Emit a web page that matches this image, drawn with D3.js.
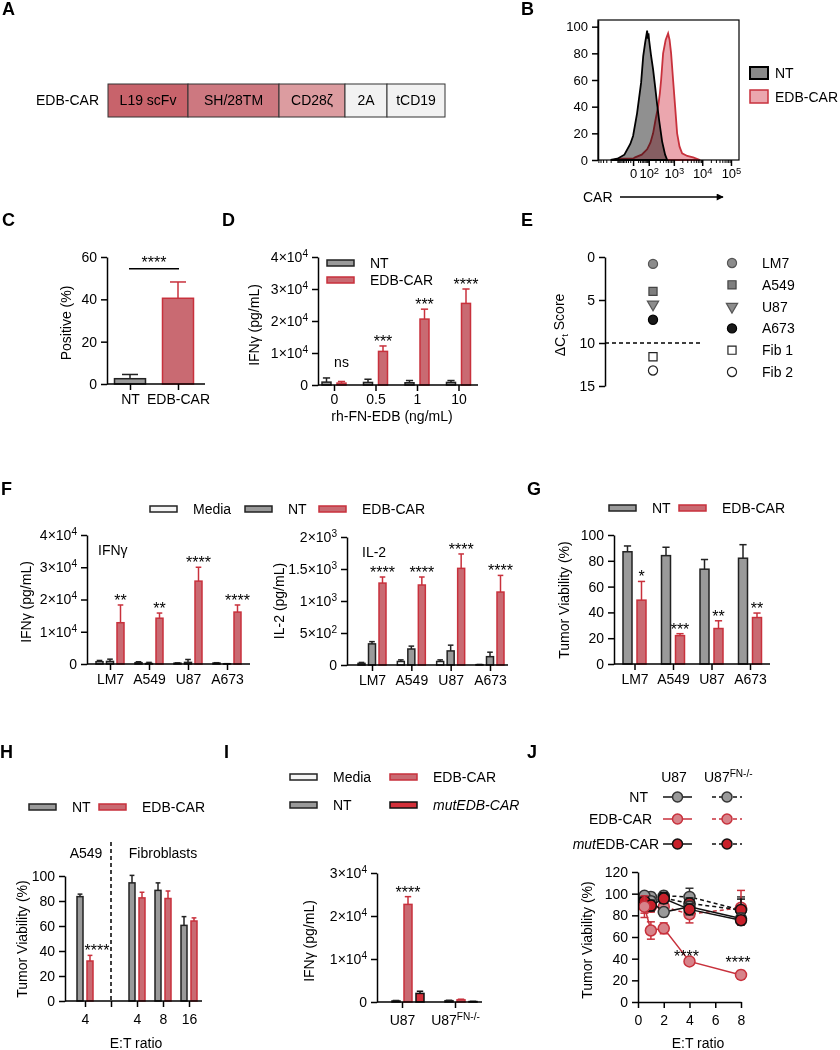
<!DOCTYPE html>
<html><head><meta charset="utf-8">
<script src="https://cdn.jsdelivr.net/npm/d3@7"></script>
<style>
body{margin:0;background:#fff}
svg text{font-family:"Liberation Sans",Arial,Helvetica,sans-serif;fill:#000}
</style></head><body>
<svg id="fig" width="840" height="1050"></svg>
<script>
// ================= DATA =================
// A: construct (relative segment lengths)
const segNames = ["L19 scFv","SH/28TM","CD28ζ","2A","tCD19"];
const segLengths = [80, 91, 66, 42, 58];

// B: flow histogram (fluorescence value, % of max)
const bNTx = [-200,-100,-40,-10,0,15,36,50,65,75,83,90,97,104,129,158,193,233,280,367,477,570];
const bNTy = [0,1,4,12,18,35,58,78,88,93,97,91,95,90,78,68,55,42,30,14,4,0];
const bCARx = [-150,-73,0,7,40,83,120,158,200,256,300,336,401,500,618,700,796,940,1112,1312,1600,1976,3000,4820,8450];
const bCARy = [0,1,1,2,4,8,13,20,30,40,50,60,80,90,95,90,80,60,40,20,10,5,3,2,0];
const bTicks = [0,100,1000,10000,100000];

// C
const cCats = ["NT","EDB-CAR"];
const cMeans = [2.5, 40.5];
const cErr = [2.0, 7.7];
const cSig = "****";
const cSigLevel = 54.5;

// D
const dDoses = ["0","0.5","1","10"];
const dNT = [900, 800, 700, 800];
const dNTerr = [1300, 1000, 700, 600];
const dEDB = [600, 10500, 20600, 25500];
const dEDBerr = [500, 1700, 3100, 4500];
const dSig = ["ns","***","***","****"];

// E
const eLines = ["LM7","A549","U87","A673","Fib 1","Fib 2"];
const eScores = [0.8, 4.0, 5.5, 7.3, 11.6, 13.2];
const eCutoff = 10;

// F
const fCats = ["LM7","A549","U87","A673"];
const fIfnMedia = [700, 400, 250, 300];
const fIfnMediaErr = [400, 300, 100, 100];
const fIfnNT = [800, 150, 500, 50];
const fIfnNTErr = [700, 350, 900, 50];
const fIfnEDB = [12800, 14200, 25700, 16100];
const fIfnEDBErr = [5500, 1600, 4300, 2200];
const fIfnSig = ["**","**","****","****"];
const fIl2Media = [25, 55, 55, 5];
const fIl2MediaErr = [15, 25, 25, 3];
const fIl2NT = [330, 250, 220, 130];
const fIl2NTErr = [35, 45, 90, 70];
const fIl2EDB = [1280, 1250, 1510, 1140];
const fIl2EDBErr = [95, 125, 225, 260];
const fIl2Sig = ["****","****","****","****"];

// G
const gCats = ["LM7","A549","U87","A673"];
const gNT = [87, 84, 73.5, 82];
const gNTErr = [4.5, 6.5, 7.5, 10.5];
const gEDB = [49.5, 22, 27.5, 36];
const gEDBErr = [14.5, 1.5, 6, 3.5];
const gSig = ["*","***","**","**"];

// H
const hSlots = ["A549|4","divider","Fib|4","Fib|8","Fib|16"];
const hCats = ["A549|4","Fib|4","Fib|8","Fib|16"];
const hNT = [83.5, 94.5, 88.5, 60.5];
const hNTErr = [2, 6, 6, 7];
const hEDB = [32, 82.5, 82, 64];
const hEDBErr = [4.5, 4.5, 6, 2.5];
const hSig = ["****","","",""];

// I
const iCats = ["U87","U87FN-/-"];
const iMedia = [0, 0];
const iMediaErr = [0, 0];
const iNT = [250, 300];
const iNTErr = [100, 100];
const iEDB = [22700, 500];
const iEDBErr = [1800, 150];
const iMut = [2000, 100];
const iMutErr = [500, 50];
const iSig = ["****",""];

// J
const jX = [0.5, 1, 2, 4, 8];
const jU87NT = [98, 93, 83, 88, 77];
const jU87NTErr = [3, 4, 4, 5, 5];
const jU87EDB = [88, 66, 68, 37.5, 25];
const jU87EDBErr = [10, 8, 5, 2, 4];
const jU87Mut = [93, 89, 95.5, 85.5, 75.5];
const jU87MutErr = [4, 5, 4, 5, 4];
const jFNNT = [97, 97, 98, 97, 85];
const jFNNTErr = [3, 4, 4, 8, 12];
const jFNEDB = [90, 88, 88, 81, 87];
const jFNEDBErr = [8, 5, 5, 8, 16];
const jFNMut = [95, 92, 96, 91, 85];
const jFNMutErr = [4, 5, 5, 5, 10];
const jSigX = [4, 8];
const jSigY = [37, 31];

// ================= STYLE =================
const RED = "#c8313c", PINK = "#c96a72", GREY = "#9a9a9a", MUT = "#d3303a", MEDIA = "#f4f4f4";
const SIGFS = 16;
const svg = d3.select("#fig");

function letter(t, x, y){ svg.append("text").attr("x",x).attr("y",y).attr("font-weight","bold").attr("font-size",18).text(t); }
function txt(t, x, y, o={}){
  const e = svg.append("text").attr("x",x).attr("y",y).attr("font-size",o.fs||14)
    .attr("text-anchor",o.anchor||"start").text(t);
  if(o.italic) e.attr("font-style","italic");
  return e;
}
function yLabel(parts, x, y){
  const t = svg.append("text").attr("transform",`translate(${x},${y}) rotate(-90)`)
    .attr("text-anchor","middle").attr("dy","0.35em").attr("font-size",14);
  parts.forEach(p=>{
    const s = t.append("tspan").text(p.t);
    if(p.sub) s.attr("font-size","0.7em").attr("dy","0.3em");
    if(p.back) s.attr("dy","-0.3em");
  });
  return t;
}
function styleAxis(g, fs=14){
  g.attr("font-family",null).attr("font-size",null);
  g.selectAll("path.domain").attr("stroke","#000").attr("stroke-width",1.5);
  g.selectAll(".tick line").attr("stroke","#000").attr("stroke-width",1.5);
  g.selectAll(".tick text").attr("font-size",fs).attr("fill","#000");
}
function sciText(sel){
  sel.each(function(d){
    const t = d3.select(this); t.text(null);
    if(d===0){ t.text("0"); return; }
    const e = Math.floor(Math.log10(d) + 1e-9);
    const m = +(d/Math.pow(10,e)).toFixed(2);
    t.append("tspan").text(m+"×10");
    t.append("tspan").attr("dy","-0.5em").attr("font-size","0.72em").text(e);
  });
}
function yAxis(scale, x, ticks, sci, fs=14){
  const g = svg.append("g").attr("transform",`translate(${x},0)`)
    .call(d3.axisLeft(scale).tickValues(ticks).tickSize(6).tickPadding(4).tickSizeOuter(0));
  styleAxis(g, fs);
  if(sci) g.selectAll(".tick text").call(sciText);
  return g;
}
function xAxisCat(scale, y, x0, x1, pad=4, fmt){
  svg.append("line").attr("x1",x0).attr("x2",x1).attr("y1",y).attr("y2",y).attr("stroke","#000").attr("stroke-width",1.5);
  const ax = d3.axisBottom(scale).tickSize(6).tickPadding(pad);
  if(fmt) ax.tickFormat(fmt);
  const g = svg.append("g").attr("transform",`translate(0,${y})`).call(ax);
  g.select("path.domain").remove();
  styleAxis(g);
  return g;
}
function legendBox(x, y, fill, stroke, label, italic){
  svg.append("rect").attr("x",x).attr("y",y-3).attr("width",27).attr("height",6)
    .attr("fill",fill).attr("stroke",stroke).attr("stroke-width",1.5);
  txt(label, x+43, y+5, {italic});
}
function bars(o){
  o.series.forEach(s=>{
    o.cats.forEach((c,i)=>{
      const v = s.vals[i], e = s.errs[i];
      const cx = o.gx(c) + s.off;
      const top = o.y(v), base = o.y(0);
      if(e>0){
        const et = o.y(v+e), cw = o.capW || o.w*0.8;
        svg.append("line").attr("x1",cx).attr("x2",cx).attr("y1",top).attr("y2",et).attr("stroke",s.err).attr("stroke-width",1.5);
        svg.append("line").attr("x1",cx-cw/2).attr("x2",cx+cw/2).attr("y1",et).attr("y2",et).attr("stroke",s.err).attr("stroke-width",1.5);
      }
      svg.append("rect").attr("x",cx-o.w/2).attr("y",top).attr("width",o.w).attr("height",Math.max(0,base-top))
        .attr("fill",s.fill).attr("stroke",s.stroke).attr("stroke-width",1.5);
    });
  });
}
function sigs(labels, o, s, extra){
  labels.forEach((l,i)=>{
    if(!l) return;
    const c = o.cats[i];
    let yb = o.y(s.vals[i]+s.errs[i]) + 1;
    if(l==="ns"){ txt(l, o.gx(c)+s.off, yb-15, {anchor:"middle", fs:14}); return; }
    txt(l, o.gx(c)+s.off+(extra||0), yb, {anchor:"middle", fs:SIGFS});
  });
}
function subScale(keys, step){
  const n = keys.length;
  return d3.scalePoint().domain(keys).range([-step*(n-1)/2, step*(n-1)/2]);
}

// ================= A =================
letter("A", 2, 15);
{
  const ax = d3.scaleLinear().domain([0, d3.sum(segLengths)]).range([108, 445]);
  const fills = ["#c8636b","#cd7880","#dc9ca0","#f2f2f2","#f2f2f2"];
  let cum = 0;
  segNames.forEach((n,i)=>{
    const s = cum, e = cum + segLengths[i]; cum = e;
    svg.append("rect").attr("x",ax(s)).attr("y",84).attr("width",ax(e)-ax(s)).attr("height",33)
      .attr("fill",fills[i]).attr("stroke","#333").attr("stroke-width",1);
    txt(n, (ax(s)+ax(e))/2, 105, {anchor:"middle"});
  });
  txt("EDB-CAR", 99, 105, {anchor:"end"});
}

// ================= B =================
letter("B", 521, 15);
{
  const bx = d3.scaleSymlog().constant(40).domain([-620, 190000]).range([598, 739]);
  const by = d3.scaleLinear().domain([0,105]).range([160,20]);
  const area = d3.area().x(d=>bx(d[0])).y0(by(0)).y1(d=>by(d[1]));
  svg.append("path").datum(d3.zip(bCARx,bCARy)).attr("d",area)
    .attr("fill","#eba6ae").attr("stroke",RED).attr("stroke-width",1.8);
  svg.append("path").datum(d3.zip(bNTx,bNTy)).attr("d",area)
    .attr("fill","#8a8a8a").attr("fill-opacity",0.95).attr("stroke","#000").attr("stroke-width",1.8)
    .style("mix-blend-mode","multiply");
  svg.append("rect").attr("x",598).attr("y",20).attr("width",141).attr("height",140)
    .attr("fill","none").attr("stroke","#000").attr("stroke-width",1.2);
  yAxis(by, 598, [0,20,40,60,80,100], false, 13);
  const minor = [];
  [-100,-10].forEach(b=>{ for(let k=1;k<10;k++){ const v=b*k; if(v>-620) minor.push(v);} });
  [10,100,1000,10000,100000].forEach(b=>{ for(let k=2;k<10;k++){ const v=b*k; if(v<190000) minor.push(v);} });
  const gm = svg.append("g").attr("transform","translate(0,160)")
    .call(d3.axisBottom(bx).tickValues(minor).tickSize(3).tickFormat(""));
  gm.select("path.domain").remove(); styleAxis(gm); gm.selectAll(".tick line").attr("stroke-width",1);
  const gM = svg.append("g").attr("transform","translate(0,160)")
    .call(d3.axisBottom(bx).tickValues(bTicks).tickSize(6).tickPadding(3));
  gM.select("path.domain").remove(); styleAxis(gM, 13);
  gM.selectAll(".tick text").each(function(d){
    const t = d3.select(this); t.text(null);
    if(d===0){ t.text("0"); return; }
    t.append("tspan").text("10");
    t.append("tspan").attr("dy","-0.45em").attr("font-size","0.72em").text(Math.round(Math.log10(d)));
  });
  txt("CAR", 583, 202);
  svg.append("defs").append("marker").attr("id","arr").attr("viewBox","0 0 10 10").attr("refX",9).attr("refY",5)
    .attr("markerWidth",9).attr("markerHeight",7).attr("markerUnits","userSpaceOnUse").attr("orient","auto")
    .append("path").attr("d","M0,0L10,5L0,10Z").attr("fill","#000");
  svg.append("line").attr("x1",620).attr("x2",723).attr("y1",197).attr("y2",197)
    .attr("stroke","#000").attr("stroke-width",1.5).attr("marker-end","url(#arr)");
  svg.append("rect").attr("x",750).attr("y",67).attr("width",18).attr("height",12).attr("fill","#8a8a8a").attr("stroke","#000").attr("stroke-width",2);
  txt("NT", 775, 78);
  svg.append("rect").attr("x",750).attr("y",90).attr("width",18).attr("height",13).attr("fill","#eba6ae").attr("stroke",RED).attr("stroke-width",1.5);
  txt("EDB-CAR", 775, 102);
}

// ================= C =================
letter("C", 2, 226);
{
  const y = d3.scaleLinear().domain([0,60]).range([384,257]);
  const gx = d3.scalePoint().domain(cCats).range([130,178]);
  const o = {y, gx, cats:cCats, w:31, capW:16};
  bars({...o, series:[{vals:[cMeans[0],0], errs:[cErr[0],0], fill:GREY, stroke:"#222", err:"#222", off:0}]});
  bars({...o, series:[{vals:[0,cMeans[1]], errs:[0,cErr[1]], fill:PINK, stroke:RED, err:RED, off:0}]});
  yAxis(y, 107, [0,20,40,60]);
  xAxisCat(gx, 384, 107, 205, 4);
  svg.append("line").attr("x1",129).attr("x2",179).attr("y1",y(cSigLevel)).attr("y2",y(cSigLevel)).attr("stroke","#000").attr("stroke-width",1.5);
  txt(cSig, 154, y(cSigLevel)-1, {anchor:"middle", fs:SIGFS});
  yLabel([{t:"Positive (%)"}], 66, 323);
}

// ================= D =================
letter("D", 222, 226);
{
  const y = d3.scaleLinear().domain([0,40000]).range([385,257]);
  const gx = d3.scalePoint().domain(dDoses).range([334,458.5]);
  const sub = subScale(["NT","EDB-CAR"], 15);
  const o = {y, gx, cats:dDoses, w:9};
  const sNT = {vals:dNT, errs:dNTerr, fill:GREY, stroke:"#222", err:"#222", off:sub("NT")};
  const sE = {vals:dEDB, errs:dEDBerr, fill:PINK, stroke:RED, err:RED, off:sub("EDB-CAR")};
  bars({...o, series:[sNT, sE]});
  sigs(dSig, o, sE);
  yAxis(y, 318, [0,10000,20000,30000,40000], true);
  xAxisCat(gx, 385, 318, 478, 3);
  txt("rh-FN-EDB (ng/mL)", 392, 421, {anchor:"middle"});
  yLabel([{t:"IFNγ (pg/mL)"}], 254, 325);
  legendBox(327, 263, GREY, "#222", "NT");
  legendBox(327, 280, PINK, RED, "EDB-CAR");
}

// ================= E =================
letter("E", 521, 226);
{
  const y = d3.scaleLinear().domain([0,15]).range([257,386]);
  const xb = d3.scaleBand().domain(["cells"]).range([605,701]);
  const cx = xb("cells") + xb.bandwidth()/2;
  const sym = [
    {type:d3.symbolCircle, size:66, fill:"#8c8c8c", stroke:"#555", rot:0},
    {type:d3.symbolSquare, size:66, fill:"#7f7f7f", stroke:"#444", rot:0},
    {type:d3.symbolTriangle, size:55, fill:"#8c8c8c", stroke:"#555", rot:180},
    {type:d3.symbolCircle, size:66, fill:"#1a1a1a", stroke:"#000", rot:0},
    {type:d3.symbolSquare, size:66, fill:"#fff", stroke:"#222", rot:0},
    {type:d3.symbolCircle, size:66, fill:"#fff", stroke:"#222", rot:0}
  ];
  svg.append("line").attr("x1",605).attr("x2",703).attr("y1",y(eCutoff)).attr("y2",y(eCutoff))
    .attr("stroke","#000").attr("stroke-width",1.5).attr("stroke-dasharray","4,3");
  eScores.forEach((v,i)=>{
    const s = sym[i];
    svg.append("path").attr("d",d3.symbol().type(s.type).size(s.size)())
      .attr("transform",`translate(${cx},${y(v)}) rotate(${s.rot})`)
      .attr("fill",s.fill).attr("stroke",s.stroke).attr("stroke-width",1.2);
  });
  const ly = d3.scalePoint().domain(eLines).range([263,372]);
  eLines.forEach((n,i)=>{
    const s = sym[i];
    svg.append("path").attr("d",d3.symbol().type(s.type).size(s.size)())
      .attr("transform",`translate(732,${ly(n)}) rotate(${s.rot})`)
      .attr("fill",s.fill).attr("stroke",s.stroke).attr("stroke-width",1.2);
    txt(n, 762, ly(n)+5);
  });
  yAxis(y, 605, [0,5,10,15]);
  yLabel([{t:"ΔC"},{t:"t",sub:true},{t:"  Score",back:true}], 560, 325);
}

// ================= F =================
letter("F", 1, 495);
legendBox(150, 509, MEDIA, "#222", "Media");
legendBox(245, 509, GREY, "#222", "NT");
legendBox(319, 509, PINK, RED, "EDB-CAR");
{
  const sub = subScale(["Media","NT","EDB-CAR"], 10.5);
  const y = d3.scaleLinear().domain([0,40000]).range([664,535]);
  const gx = d3.scalePoint().domain(fCats).range([110,227]);
  const o = {y, gx, cats:fCats, w:7};
  const sE = {vals:fIfnEDB, errs:fIfnEDBErr, fill:PINK, stroke:RED, err:RED, off:sub("EDB-CAR")};
  bars({...o, series:[
    {vals:fIfnMedia, errs:fIfnMediaErr, fill:MEDIA, stroke:"#222", err:"#222", off:sub("Media")},
    {vals:fIfnNT, errs:fIfnNTErr, fill:GREY, stroke:"#222", err:"#222", off:sub("NT")}, sE]});
  sigs(fIfnSig, o, sE);
  yAxis(y, 87, [0,10000,20000,30000,40000], true);
  xAxisCat(gx, 664, 87, 250, 4);
  txt("IFNγ", 98, 555);
  yLabel([{t:"IFNγ (pg/mL)"}], 26, 602);
  const y2 = d3.scaleLinear().domain([0,2000]).range([665,537]);
  const gx2 = d3.scalePoint().domain(fCats).range([372,490]);
  const o2 = {y:y2, gx:gx2, cats:fCats, w:7};
  const sE2 = {vals:fIl2EDB, errs:fIl2EDBErr, fill:PINK, stroke:RED, err:RED, off:sub("EDB-CAR")};
  bars({...o2, series:[
    {vals:fIl2Media, errs:fIl2MediaErr, fill:MEDIA, stroke:"#222", err:"#222", off:sub("Media")},
    {vals:fIl2NT, errs:fIl2NTErr, fill:GREY, stroke:"#222", err:"#222", off:sub("NT")}, sE2]});
  sigs(fIl2Sig, o2, sE2);
  yAxis(y2, 347, [0,500,1000,1500,2000], true);
  xAxisCat(gx2, 665, 347, 508, 4);
  txt("IL-2", 362, 557);
  yLabel([{t:"IL-2 (pg/mL)"}], 279, 601);
}

// ================= G =================
letter("G", 527, 495);
legendBox(609, 508, GREY, "#222", "NT");
legendBox(679, 508, PINK, RED, "EDB-CAR");
{
  const y = d3.scaleLinear().domain([0,100]).range([664,535]);
  const gx = d3.scalePoint().domain(gCats).range([634.5,750]);
  const sub = subScale(["NT","EDB-CAR"], 14);
  const o = {y, gx, cats:gCats, w:9};
  const sE = {vals:gEDB, errs:gEDBErr, fill:PINK, stroke:RED, err:RED, off:sub("EDB-CAR")};
  bars({...o, series:[{vals:gNT, errs:gNTErr, fill:GREY, stroke:"#222", err:"#222", off:sub("NT")}, sE]});
  sigs(gSig, o, sE);
  yAxis(y, 614, [0,20,40,60,80,100]);
  xAxisCat(gx, 664, 614, 770, 4);
  yLabel([{t:"Tumor Viability (%)"}], 564, 600);
}

// ================= H =================
letter("H", 0, 758);
legendBox(29, 807, GREY, "#222", "NT");
legendBox(99, 807, PINK, RED, "EDB-CAR");
{
  const y = d3.scaleLinear().domain([0,100]).range([1001,876]);
  const gx = d3.scalePoint().domain(hSlots).range([85,189]);
  const sub = subScale(["NT","EDB-CAR"], 10);
  const o = {y, gx, cats:hCats, w:6};
  const sE = {vals:hEDB, errs:hEDBErr, fill:PINK, stroke:RED, err:RED, off:sub("EDB-CAR")};
  bars({...o, series:[{vals:hNT, errs:hNTErr, fill:GREY, stroke:"#222", err:"#222", off:sub("NT")}, sE]});
  sigs(hSig, o, sE, 7);
  yAxis(y, 65, [0,20,40,60,80,100]);
  xAxisCat(gx, 1001, 65, 202, 7, d=> d==="divider" ? "" : d.split("|")[1]);
  svg.append("line").attr("x1",gx("divider")).attr("x2",gx("divider")).attr("y1",842).attr("y2",1001)
    .attr("stroke","#000").attr("stroke-width",1.5).attr("stroke-dasharray","4,3");
  txt("A549", 86, 858, {anchor:"middle"});
  txt("Fibroblasts", 163, 858, {anchor:"middle"});
  txt("E:T ratio", 136, 1048, {anchor:"middle"});
  yLabel([{t:"Tumor Viability (%)"}], 22, 939);
}

// ================= I =================
letter("I", 224, 758);
legendBox(290, 777, MEDIA, "#222", "Media");
legendBox(390, 777, PINK, RED, "EDB-CAR");
legendBox(290, 805, GREY, "#222", "NT");
legendBox(390, 805, MUT, "#111", "mutEDB-CAR", true);
{
  const y = d3.scaleLinear().domain([0,30000]).range([1002,873]);
  const gx = d3.scalePoint().domain(iCats).range([402,455]);
  const sub = subScale(["Media","NT","EDB-CAR","mut"], 12);
  const o = {y, gx, cats:iCats, w:8};
  const sE = {vals:iEDB, errs:iEDBErr, fill:PINK, stroke:RED, err:RED, off:sub("EDB-CAR")};
  bars({...o, series:[
    {vals:iMedia, errs:iMediaErr, fill:MEDIA, stroke:"#222", err:"#222", off:sub("Media")},
    {vals:iNT, errs:iNTErr, fill:GREY, stroke:"#222", err:"#222", off:sub("NT")}, sE,
    {vals:iMut, errs:iMutErr, fill:MUT, stroke:"#111", err:"#111", off:sub("mut")}]});
  sigs(iSig, o, sE);
  yAxis(y, 377, [0,10000,20000,30000], true);
  const g = xAxisCat(gx, 1002, 377, 482, 7);
  g.selectAll(".tick text").each(function(d){
    if(d!=="U87FN-/-") return;
    const t = d3.select(this); t.text(null);
    t.append("tspan").text("U87");
    t.append("tspan").attr("dy","-0.5em").attr("font-size","0.72em").text("FN-/-");
  });
  yLabel([{t:"IFNγ (pg/mL)"}], 309, 941);
}

// ================= J =================
letter("J", 527, 758);
{
  const x = d3.scaleLinear().domain([0,8]).range([638,741]);
  const y = d3.scaleLinear().domain([0,120]).range([1002,872]);
  const series = [
    {v:jFNNT, e:jFNNTErr, fill:"#9a9a9a", stroke:"#333", line:"#111", dash:"4,3"},
    {v:jFNEDB, e:jFNEDBErr, fill:"#d7838a", stroke:RED, line:RED, dash:"4,3"},
    {v:jFNMut, e:jFNMutErr, fill:"#c8202a", stroke:"#111", line:"#111", dash:"4,3"},
    {v:jU87NT, e:jU87NTErr, fill:"#9a9a9a", stroke:"#333", line:"#111", dash:null},
    {v:jU87Mut, e:jU87MutErr, fill:"#c8202a", stroke:"#111", line:"#111", dash:null},
    {v:jU87EDB, e:jU87EDBErr, fill:"#d7838a", stroke:RED, line:RED, dash:null}
  ];
  const lineGen = d3.line().x(d=>x(d[0])).y(d=>y(d[1]));
  series.forEach(s=>{
    const pts = d3.zip(jX, s.v);
    svg.append("path").datum(pts).attr("d",lineGen).attr("fill","none").attr("stroke",s.line)
      .attr("stroke-width",1.5).attr("stroke-dasharray",s.dash);
    pts.forEach((p,i)=>{
      const e = s.e[i], cx = x(p[0]);
      [p[1]-e, p[1]+e].forEach(q=>{
        svg.append("line").attr("x1",cx).attr("x2",cx).attr("y1",y(p[1])).attr("y2",y(q)).attr("stroke",s.stroke).attr("stroke-width",1.5);
        svg.append("line").attr("x1",cx-4).attr("x2",cx+4).attr("y1",y(q)).attr("y2",y(q)).attr("stroke",s.stroke).attr("stroke-width",1.5);
      });
    });
    svg.append("g").selectAll("circle").data(pts).join("circle")
      .attr("cx",d=>x(d[0])).attr("cy",d=>y(d[1])).attr("r",5.5)
      .attr("fill",s.fill).attr("stroke",s.stroke).attr("stroke-width",1.5);
  });
  jSigX.forEach((xv,i)=> txt("****", x(xv)-3, y(jSigY[i]), {anchor:"middle", fs:SIGFS}));
  yAxis(y, 638, [0,20,40,60,80,100,120]);
  const gxA = svg.append("g").attr("transform","translate(0,1002)")
    .call(d3.axisBottom(x).tickValues([0,2,4,6,8]).tickSize(6).tickPadding(7).tickSizeOuter(0));
  styleAxis(gxA);
  txt("E:T ratio", 698, 1048, {anchor:"middle"});
  yLabel([{t:"Tumor Viability (%)"}], 587, 940);
  txt("U87", 674, 782, {anchor:"middle"});
  const hdr = txt("U87", 704, 782);
  hdr.append("tspan").attr("dy","-0.5em").attr("font-size","0.72em").text("FN-/-");
  const rows = [
    {y:797, fill:"#9a9a9a", stroke:"#333", line:"#111", end:648, label:"NT"},
    {y:819, fill:"#d7838a", stroke:RED, line:RED, end:652, label:"EDB-CAR"},
    {y:844, fill:"#c8202a", stroke:"#111", line:"#111", end:659, label:"EDB-CAR", mut:true}
  ];
  rows.forEach(r=>{
    const t = svg.append("text").attr("x",r.end).attr("y",r.y+5).attr("font-size",14).attr("text-anchor","end");
    if(r.mut) t.append("tspan").attr("font-style","italic").text("mut");
    t.append("tspan").text(r.label);
    [[663,692,null],[712,742,"4,3"]].forEach(seg=>{
      svg.append("line").attr("x1",seg[0]).attr("x2",seg[1]).attr("y1",r.y).attr("y2",r.y)
        .attr("stroke",r.line).attr("stroke-width",1.5).attr("stroke-dasharray",seg[2]);
      svg.append("circle").attr("cx",(seg[0]+seg[1])/2).attr("cy",r.y).attr("r",5)
        .attr("fill",r.fill).attr("stroke",r.stroke).attr("stroke-width",1.5);
    });
  });
}
</script>
</body></html>
